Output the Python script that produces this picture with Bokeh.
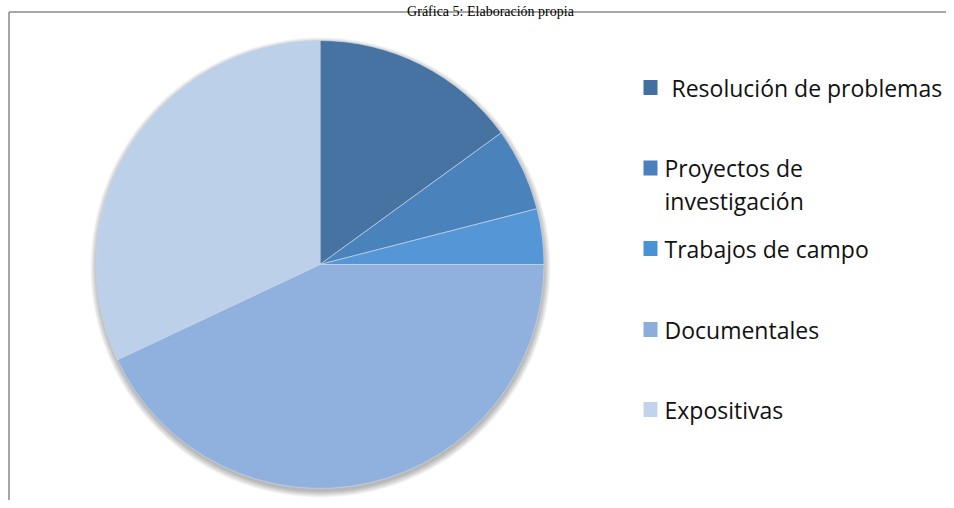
import math
from bokeh.plotting import figure
from bokeh.models import Range1d, ColumnDataSource
from bokeh.core.properties import value
from bokeh.embed import file_html
from bokeh.resources import INLINE

# ---- data ----
categories = ["Resolución de problemas", "Proyectos de investigación",
              "Trabajos de campo", "Documentales", "Expositivas"]
values = [15, 6, 4, 43, 32]
slice_colors = ["#4673a2", "#4a82bb", "#5596d6", "#90b1de", "#bdd0ea"]
legend_colors = ["#4470a0", "#4a80bc", "#4a92d6", "#8caedb", "#c2d4ec"]
legend_lines = [["Resolución de problemas"], ["Proyectos de", "investigación"],
                ["Trabajos de campo"], ["Documentales"], ["Expositivas"]]
title_text = "Gráfica 5: Elaboración propia"

W, H = 946, 500
p = figure(width=W, height=H, output_backend="svg", toolbar_location=None,
           x_range=Range1d(0, W), y_range=Range1d(0, H), min_border=0)
p.axis.visible = False
p.grid.visible = False
p.outline_line_color = None
p.background_fill_color = "white"
p.border_fill_color = "white"

def py(page_y):
    return H - page_y

def px(page_x):
    return page_x

# border lines (left and top)
p.line(x=[px(8.5), px(8.5)], y=[py(11.5), py(520)], line_color="#8a8a8a", line_width=1.5)
p.line(x=[px(8.5), px(960)], y=[py(11.5), py(11.5)], line_color="#8a8a8a", line_width=1.5)

# title
p.text(x=[px(490)], y=[py(11)], text=[title_text], text_align="center",
       text_baseline="alphabetic", text_font=value("Liberation Serif"),
       text_font_size="14px", text_color="#000000")

cx, cy, r = px(319.5), py(264), 224

# shadow: soft, offset downward
for k in range(7):
    p.circle(x=[cx + 0.5], y=[cy - 3], radius=r + 6 - k, fill_color="#000000",
             fill_alpha=0.045, line_color=None)

# wedges from values (clockwise starting at 12 o'clock)
total = float(sum(values))
starts, ends = [], []
acc = 0.0
for v in values:
    a0 = math.pi / 2 - 2 * math.pi * acc / total
    acc += v
    a1 = math.pi / 2 - 2 * math.pi * acc / total
    starts.append(a1)
    ends.append(a0)

src = ColumnDataSource(dict(start=starts, end=ends, color=slice_colors, cat=categories))
p.wedge(x=cx, y=cy, radius=r, start_angle="start", end_angle="end",
        fill_color="color", line_color="#c9d5e6", line_width=0.7, source=src)

# legend
sq_centers = [87, 167.5, 248, 329, 409]
text_x = [671, 664, 664, 664, 664]
lx, ly, lc = [], [], []
for i, (yc, lines) in enumerate(zip(sq_centers, legend_lines)):
    p.rect(x=[px(650)], y=[py(yc)], width=14, height=15,
           fill_color=legend_colors[i], line_color=None)
    for j, t in enumerate(lines):
        lx.append(px(text_x[i]))
        ly.append(py(yc + j * 33))
        lc.append(t)
p.text(x=lx, y=ly, text=lc, text_baseline="middle", text_align="left",
       text_font=value("Open Sans"), text_font_size="23px", text_color="#111111")

open("out.html", "w").write(file_html(p, INLINE))
